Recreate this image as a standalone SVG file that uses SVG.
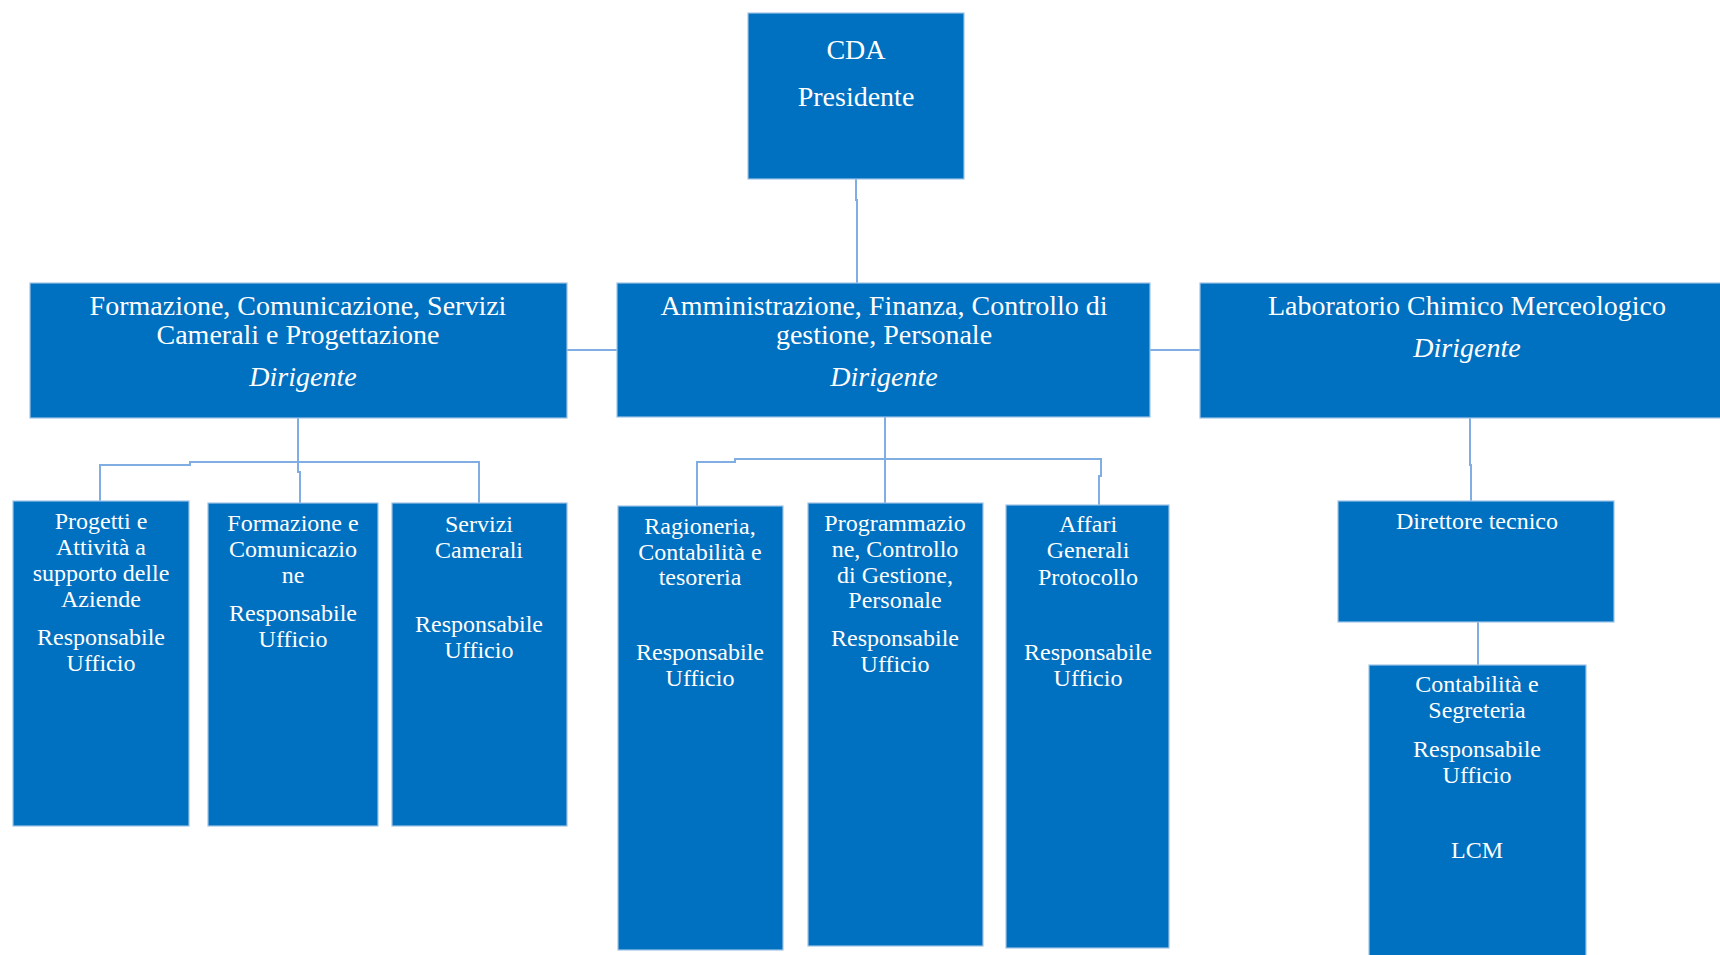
<svg xmlns="http://www.w3.org/2000/svg" width="1720" height="955" viewBox="0 0 1720 955">
  <style>
    .box { fill: #0070C0; stroke: #9DC3E6; stroke-width: 1.2; }
    .t { font-family: "Liberation Serif", "Times New Roman", serif; fill: #FFFFFF; text-anchor: middle; }
    .big { font-size: 28px; }
    .sm { font-size: 24px; }
    .it { font-style: italic; }
    .conn { fill: none; stroke: #80AEE2; stroke-width: 2; }
  </style>
  <rect x="0" y="0" width="1720" height="955" fill="#FFFFFF"/>

  <!-- connectors -->
  <g id="connectors">
    <path class="conn" d="M856 179 V200 H857 V283"/>
    <path class="conn" d="M567 350 H617"/>
    <path class="conn" d="M1150 350 H1200"/>
    <path class="conn" d="M298 418 V472 H300 V503"/>
    <path class="conn" d="M100 501 V465 H190 V462 H479 V503"/>
    <path class="conn" d="M885 417 V503"/>
    <path class="conn" d="M697 506 V492 H697 V462 H735 V459 H1101 V476 H1099 V505"/>
    <path class="conn" d="M1470 418 V465 H1471 V501"/>
    <path class="conn" d="M1478 622 V665"/>
  </g>

  <!-- top level -->
  <g id="cda">
    <rect class="box" x="748" y="13" width="216" height="166"/>
    <text class="t big" x="856" y="59">CDA</text>
    <text class="t big" x="856" y="106">Presidente</text>
  </g>

  <!-- second level -->
  <g id="formazione-comunicazione">
    <rect class="box" x="30" y="283" width="537" height="135"/>
    <text class="t big" x="298" y="315">Formazione, Comunicazione, Servizi</text>
    <text class="t big" x="298" y="344">Camerali e Progettazione</text>
    <text class="t big it" x="303" y="386">Dirigente</text>
  </g>
  <g id="amministrazione-finanza">
    <rect class="box" x="617" y="283" width="533" height="134"/>
    <text class="t big" x="884" y="315">Amministrazione, Finanza, Controllo di</text>
    <text class="t big" x="884" y="344">gestione, Personale</text>
    <text class="t big it" x="884" y="386">Dirigente</text>
  </g>
  <g id="laboratorio">
    <rect class="box" x="1200" y="283" width="536" height="135"/>
    <text class="t big" x="1467" y="315">Laboratorio Chimico Merceologico</text>
    <text class="t big it" x="1467" y="357">Dirigente</text>
  </g>

  <!-- offices under Formazione -->
  <g id="progetti">
    <rect class="box" x="13" y="501" width="176" height="325"/>
    <text class="t sm" x="101" y="529">Progetti e</text>
    <text class="t sm" x="101" y="555">Attività a</text>
    <text class="t sm" x="101" y="581">supporto delle</text>
    <text class="t sm" x="101" y="607">Aziende</text>
    <text class="t sm" x="101" y="645">Responsabile</text>
    <text class="t sm" x="101" y="671">Ufficio</text>
  </g>
  <g id="formazione-ufficio">
    <rect class="box" x="208" y="503" width="170" height="323"/>
    <text class="t sm" x="293" y="531">Formazione e</text>
    <text class="t sm" x="293" y="557">Comunicazio</text>
    <text class="t sm" x="293" y="583">ne</text>
    <text class="t sm" x="293" y="621">Responsabile</text>
    <text class="t sm" x="293" y="647">Ufficio</text>
  </g>
  <g id="servizi-camerali">
    <rect class="box" x="392" y="503" width="175" height="323"/>
    <text class="t sm" x="479" y="532">Servizi</text>
    <text class="t sm" x="479" y="558">Camerali</text>
    <text class="t sm" x="479" y="632">Responsabile</text>
    <text class="t sm" x="479" y="658">Ufficio</text>
  </g>

  <!-- offices under Amministrazione -->
  <g id="ragioneria">
    <rect class="box" x="618" y="506" width="165" height="444"/>
    <text class="t sm" x="700" y="534">Ragioneria,</text>
    <text class="t sm" x="700" y="560">Contabilità e</text>
    <text class="t sm" x="700" y="585">tesoreria</text>
    <text class="t sm" x="700" y="660">Responsabile</text>
    <text class="t sm" x="700" y="686">Ufficio</text>
  </g>
  <g id="programmazione">
    <rect class="box" x="808" y="503" width="175" height="443"/>
    <text class="t sm" x="895" y="531">Programmazio</text>
    <text class="t sm" x="895" y="557">ne, Controllo</text>
    <text class="t sm" x="895" y="583">di Gestione,</text>
    <text class="t sm" x="895" y="608">Personale</text>
    <text class="t sm" x="895" y="646">Responsabile</text>
    <text class="t sm" x="895" y="672">Ufficio</text>
  </g>
  <g id="affari-generali">
    <rect class="box" x="1006" y="505" width="163" height="443"/>
    <text class="t sm" x="1088" y="532">Affari</text>
    <text class="t sm" x="1088" y="558">Generali</text>
    <text class="t sm" x="1088" y="585">Protocollo</text>
    <text class="t sm" x="1088" y="660">Responsabile</text>
    <text class="t sm" x="1088" y="686">Ufficio</text>
  </g>

  <!-- laboratory branch -->
  <g id="direttore-tecnico">
    <rect class="box" x="1338" y="501" width="276" height="121"/>
    <text class="t sm" x="1477" y="529">Direttore tecnico</text>
  </g>
  <g id="contabilita-segreteria">
    <rect class="box" x="1369" y="665" width="217" height="300"/>
    <text class="t sm" x="1477" y="692">Contabilità e</text>
    <text class="t sm" x="1477" y="718">Segreteria</text>
    <text class="t sm" x="1477" y="757">Responsabile</text>
    <text class="t sm" x="1477" y="783">Ufficio</text>
    <text class="t sm" x="1477" y="858">LCM</text>
  </g>
</svg>
